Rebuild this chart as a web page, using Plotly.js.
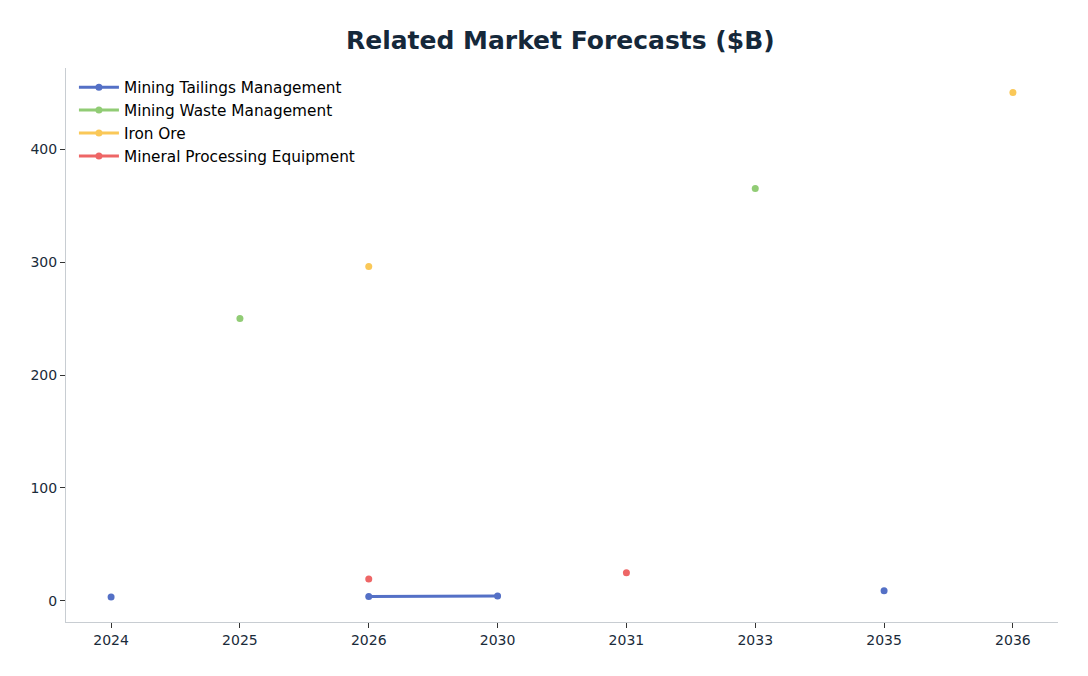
<!DOCTYPE html>
<html><head><meta charset="utf-8">
<script src="https://cdn.plot.ly/plotly-3.0.1.min.js"></script>
<style>html,body{margin:0;padding:0;background:#fff}#chart{width:1088px;height:676px}</style>
</head><body><div id="chart"></div>
<script>
const years = ["2024","2025","2026","2030","2031","2033","2035","2036"];
const seriesNames = ["Mining Tailings Management","Mining Waste Management","Iron Ore","Mineral Processing Equipment"];
const tailings = [3.5, null, 4, 4.5, null, null, 9, null];
const waste = [null, 250, null, null, null, 365, null, null];
const ironOre = [null, null, 296, null, null, null, null, 450];
const mineral = [null, null, 19.5, null, 25, null, null, null];
const yTicks = [0, 100, 200, 300, 400];
const colors = ["#5470c6","#91cc75","#fac858","#ee6666"];
const allSeries = [tailings, waste, ironOre, mineral];
const traces = allSeries.map((s,i)=>({
  x: years, y: s, name: seriesNames[i], type:'scatter', mode:'lines+markers',
  connectgaps:false,
  line:{color:colors[i], width:3}, marker:{color:colors[i], size:7}
}));
const layout = {
  width:1088, height:676,
  margin:{l:66, r:30, t:68, b:54},
  paper_bgcolor:'#fff', plot_bgcolor:'#fff',
  font:{family:'DejaVu Sans', color:'#1a2b3a', size:13},
  title:{text:'<b>Related Market Forecasts ($B)</b>', x:0.515, xanchor:'center', y:0.94, yanchor:'middle',
    font:{family:'DejaVu Sans', size:25, color:'#15283a'}},
  xaxis:{type:'category', range:[-0.35,7.35], showgrid:false, zeroline:false, showline:true,
    linecolor:'#c8cdd2', linewidth:1, ticks:'outside', ticklen:5, tickcolor:'#333', tickfont:{size:14, color:'#1a2b3a'}},
  yaxis:{range:[-18.6,471.7], tickvals:yTicks, showgrid:false, zeroline:false, showline:true,
    linecolor:'#c8cdd2', linewidth:1, ticks:'outside', ticklen:5, tickcolor:'#333', tickfont:{size:14, color:'#1a2b3a'}},
  showlegend:true,
  legend:{x:0.008, y:0.995, xanchor:'left', yanchor:'top', bgcolor:'rgba(255,255,255,0)', borderwidth:0,
    font:{size:15.3, color:'#000'}, tracegroupgap:0, itemwidth:40}
};
Plotly.newPlot('chart', traces, layout, {displayModeBar:false, staticPlot:true});
</script></body></html>
